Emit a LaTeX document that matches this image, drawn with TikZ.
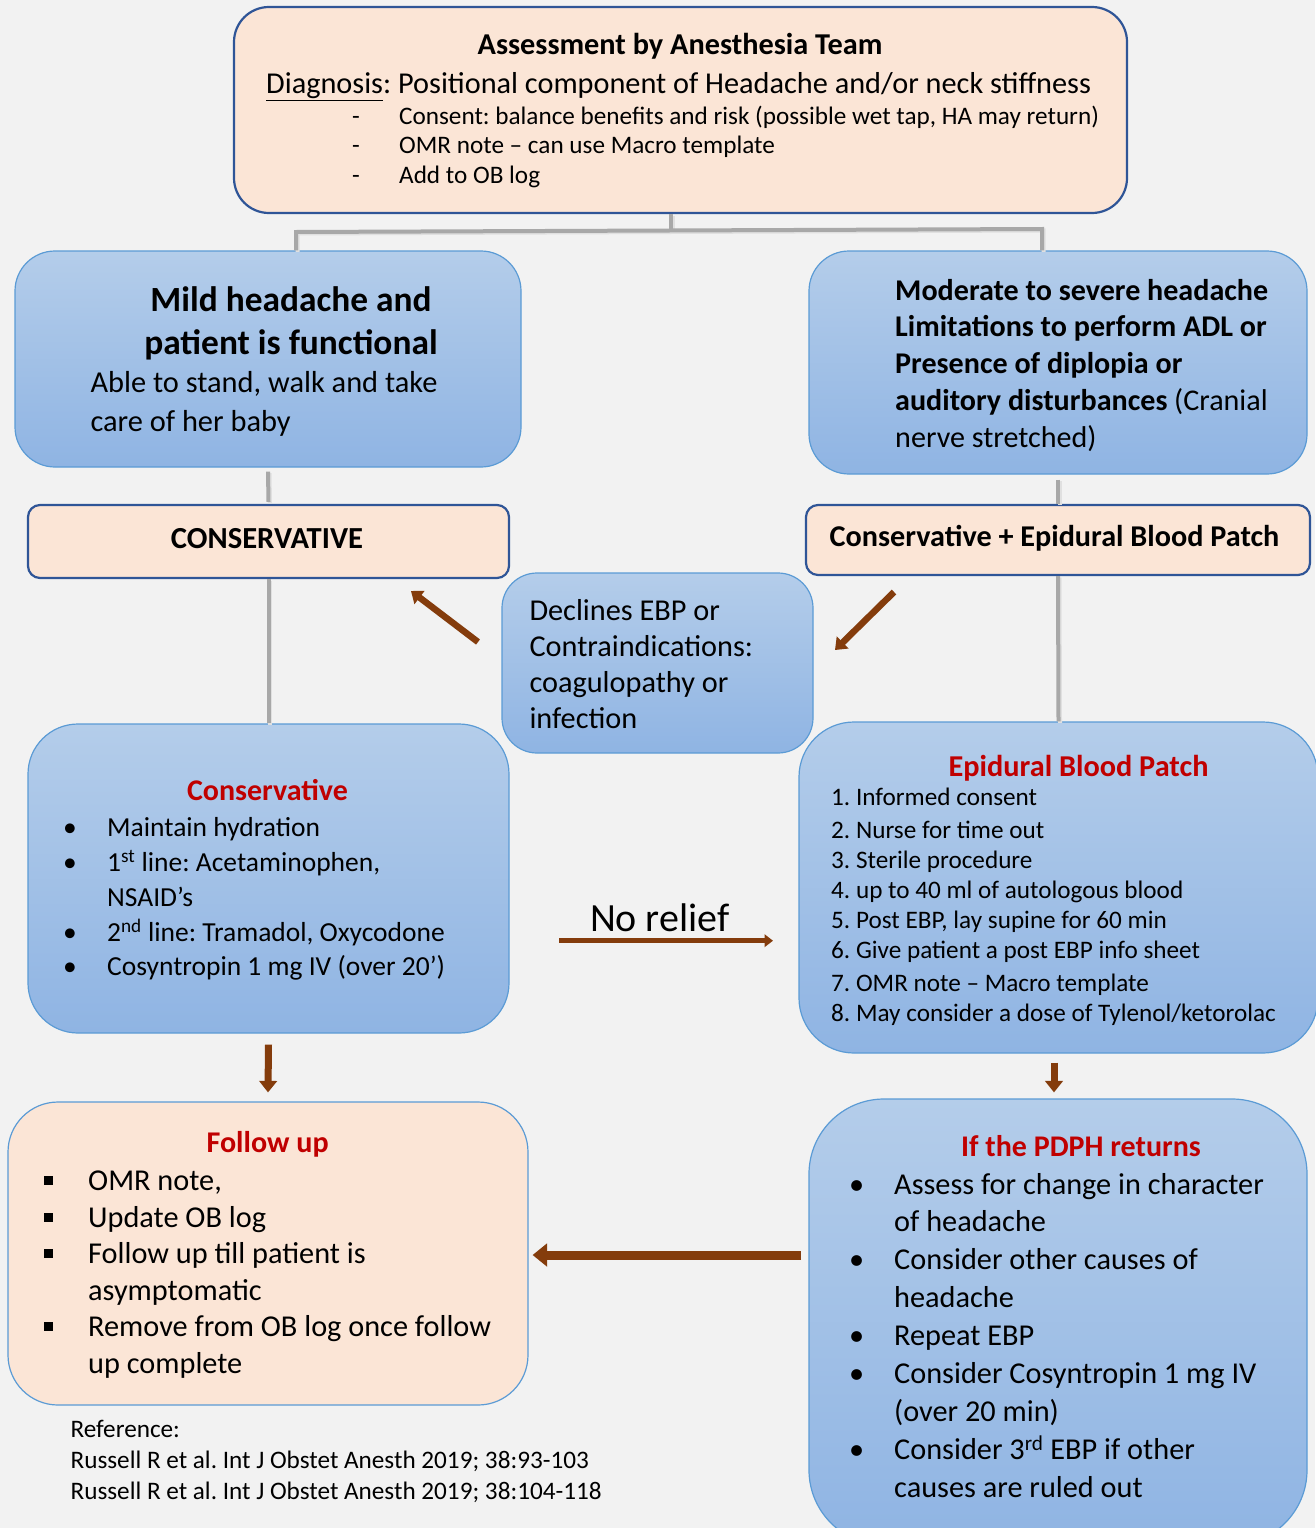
\documentclass[tikz,border=0pt]{standalone}
\usepackage{fontspec}
\setmainfont{Carlito}
\usetikzlibrary{arrows.meta}
\frenchspacing

\definecolor{bgc}{HTML}{F2F2F2}
\definecolor{peach}{HTML}{FBE5D6}
\definecolor{navy}{HTML}{2F5597}
\definecolor{skyline}{HTML}{5B9BD5}
\definecolor{bluetop}{HTML}{B4CDEA}
\definecolor{bluebot}{HTML}{8FB4E3}
\definecolor{alert}{HTML}{C00000}
\definecolor{rust}{HTML}{843C0C}
\definecolor{linkgray}{HTML}{A8A8A8}

% one-column and two-column stacks whose baseline is the first line
\newcommand{\stack}[1]{\begin{tabular}[t]{@{}l@{}}#1\end{tabular}}
\newcommand{\cstack}[1]{\begin{tabular}[t]{@{}c@{}}#1\end{tabular}}
\newcommand{\blist}[1]{\begin{tabular}[t]{@{}l@{}l@{}}#1\end{tabular}}
\newcommand{\bdot}[1]{\makebox[#1][l]{\textbullet}}
\newcommand{\bsq}[1]{\makebox[#1][l]{\raisebox{5.5pt}{\rule{9pt}{9pt}}}}
\newcommand{\bdash}[1]{\makebox[#1][l]{-}}

\tikzset{
  pbox/.style={rectangle, draw=navy, line width=2.2pt, fill=peach, inner sep=0pt},
  lbox/.style={rectangle, draw=skyline, line width=1.2pt, fill=peach, inner sep=0pt},
  bbox/.style={rectangle, draw=skyline, line width=1.2pt, top color=bluetop, bottom color=bluebot, inner sep=0pt},
  txt/.style={inner sep=0pt, anchor=base west},
  ctxt/.style={inner sep=0pt, anchor=base},
  gline/.style={draw=linkgray, line width=4pt,
    preaction={draw=black!12, line width=4pt, transform canvas={shift={(1.5pt,-1.5pt)}}}},
  rarrow/.style={draw=rust, line width=#1, -{Triangle[length=1.5*#1+1pt, width=2.5*#1]}},
  rarrow/.default=7pt
}

\begin{document}
\begin{tikzpicture}[x=1pt, y=-1pt]
\fill[bgc] (0,0) rectangle (1315,1528);
\useasboundingbox (0,0) rectangle (1315,1528);

% ---------- assessment ----------
\node[pbox, minimum width=893pt, minimum height=206pt, rounded corners=35pt] (assess) at (680.5,110) {};
\node[ctxt, font=\bfseries\fontsize{30.3}{32}\selectfont] (assesst) at (680,55) {Assessment by Anesthesia Team};
\node[txt, font=\fontsize{30.3}{32}\selectfont] (diag) at (266,93.3)
  {\underline{Diagnosis}: Positional component of Headache and/or neck stiffness};
\node[txt, font=\fontsize{25.2}{29.7}\selectfont] (tasks) at (352,124)
  {\blist{\bdash{47pt} & Consent: balance benefits and risk (possible wet tap, HA may return)\\
          \bdash{47pt} & OMR note – can use Macro template\\
          \bdash{47pt} & Add to OB log}};

% ---------- severity boxes ----------
\node[bbox, minimum width=506pt, minimum height=216pt, rounded corners=40pt] (mild) at (268,359) {};
\node[ctxt, font=\bfseries\fontsize{35.4}{42.6}\selectfont] (mildt) at (291,311.7)
  {\cstack{Mild headache and\\ patient is functional}};
\node[txt, font=\fontsize{30.4}{38.7}\selectfont] (milds) at (90.3,392.3)
  {\stack{Able to stand, walk and take\\ care of her baby}};

\node[bbox, minimum width=498pt, minimum height=223pt, rounded corners=40pt] (severe) at (1058,362.5) {};
\node[txt, font=\fontsize{30.1}{36.8}\selectfont] (severet) at (895,300)
  {\stack{\textbf{Moderate to severe headache}\\
          \textbf{Limitations to perform ADL or}\\
          \textbf{Presence of diplopia or}\\
          \textbf{auditory disturbances} (Cranial\\
          nerve stretched)}};

% ---------- management choice ----------
\node[pbox, minimum width=481pt, minimum height=73pt, rounded corners=12pt] (cons) at (268.5,541.5) {};
\node[ctxt, font=\bfseries\fontsize{30.6}{32}\selectfont] (const) at (267,548.3) {CONSERVATIVE};

\node[pbox, minimum width=504pt, minimum height=70pt, rounded corners=12pt] (combo) at (1058,540) {};
\node[ctxt, font=\bfseries\fontsize{30.2}{32}\selectfont] (combot) at (1054.5,546.7) {Conservative + Epidural Blood Patch};

% ---------- treatment boxes ----------
\node[bbox, minimum width=481pt, minimum height=309pt, rounded corners=50pt] (consplan) at (268.5,878.5) {};
\node[ctxt, font=\bfseries\fontsize{30}{32}\selectfont, text=alert] (consplant) at (267.5,800.7) {Conservative};
\node[txt, font=\fontsize{27.5}{34.8}\selectfont] (consplanl) at (63,836.7)
  {\blist{\bdot{44pt} & Maintain hydration\\
          \bdot{44pt} & 1\textsuperscript{st} line: Acetaminophen,\\
                      & NSAID’s\\
          \bdot{44pt} & 2\textsuperscript{nd} line: Tramadol, Oxycodone\\
          \bdot{44pt} & Cosyntropin 1 mg IV (over 20’)}};

\node[bbox, minimum width=519pt, minimum height=331pt, rounded corners=55pt] (ebp) at (1058.5,887.5) {};
\node[ctxt, font=\bfseries\fontsize{30.3}{32}\selectfont, text=alert] (ebpt) at (1078.5,776.7) {Epidural Blood Patch};
\node[txt, font=\fontsize{25.2}{30}\selectfont] (ebpl) at (831,805.7)
  {\stack{1. Informed consent\\[3pt]
          2. Nurse for time out\\
          3. Sterile procedure\\
          4. up to 40 ml of autologous blood\\
          5. Post EBP, lay supine for 60 min\\
          6. Give patient a post EBP info sheet\\[3pt]
          7. OMR note – Macro template\\
          8. May consider a dose of Tylenol/ketorolac}};

\node[bbox, minimum width=311pt, minimum height=180pt, rounded corners=35pt] (decl) at (657.5,663) {};
\node[txt, font=\fontsize{30.3}{36.1}\selectfont] (declt) at (529.3,620)
  {\stack{Declines EBP or\\ Contraindications:\\ coagulopathy or\\ infection}};

\node[lbox, minimum width=520pt, minimum height=303pt, rounded corners=50pt] (follow) at (268,1253.5) {};
\node[ctxt, font=\bfseries\fontsize{30.1}{32}\selectfont, text=alert] (followt) at (267.6,1152) {Follow up};
\node[txt, font=\fontsize{30.3}{36.5}\selectfont] (followl) at (44,1190.7)
  {\blist{\bsq{44pt} & OMR note,\\
          \bsq{44pt} & Update OB log\\
          \bsq{44pt} & Follow up till patient is\\
                     & asymptomatic\\
          \bsq{44pt} & Remove from OB log once follow\\
                     & up complete}};

\node[bbox, minimum width=498pt, minimum height=446pt, rounded corners=75pt] (pdph) at (1058,1322) {};
\node[ctxt, font=\bfseries\fontsize{30}{32}\selectfont, text=alert] (pdpht) at (1081,1156.7) {If the PDPH returns};
\node[txt, font=\fontsize{30.3}{37.9}\selectfont] (pdphl) at (849,1194)
  {\blist{\bdot{45pt} & Assess for change in character\\
                      & of headache\\
          \bdot{45pt} & Consider other causes of\\
                      & headache\\
          \bdot{45pt} & Repeat EBP\\
          \bdot{45pt} & Consider Cosyntropin 1 mg IV\\
                      & (over 20 min)\\
          \bdot{45pt} & Consider 3\textsuperscript{rd} EBP if other\\
                      & causes are ruled out}};

% ---------- references ----------
\node[txt, font=\fontsize{25.2}{31.3}\selectfont] (refs) at (70.4,1437.3)
  {\stack{Reference:\\
          Russell R et al. Int J Obstet Anesth 2019; 38:93-103\\
          Russell R et al. Int J Obstet Anesth 2019; 38:104-118}};

% ---------- gray tree connectors ----------
\coordinate (busM) at (671,230.5);
\coordinate (busL) at (296,232);
\coordinate (busR) at (1042,229);
\draw[gline] (assess.south -| busM) -- (busM);
\draw[gline] (mild.north -| busL) -- (busL) -- (busR) -- (severe.north -| busR);
\draw[gline] ([yshift=-4pt]mild.south) -- ([yshift=2pt]cons.north);
\draw[gline] ([yshift=-5pt]severe.south) -- (combo.north);
\draw[gline] (cons.south) -- (consplan.north);
\draw[gline] (combo.south) -- (ebp.north);

% ---------- brown arrows ----------
\coordinate (dlA) at (478,642);
\coordinate (dlB) at (411,591);
\coordinate (drA) at (894,592);
\coordinate (drB) at (835,650);
\draw[rarrow=6.5pt] (dlA) -- (dlB);
\draw[rarrow=6.5pt] (drA) -- (drB);

\coordinate (nrA) at (559,940.7);
\coordinate (nrB) at (773,940.7);
\draw[rarrow=5pt] (nrA) -- (nrB);
\node[ctxt, font=\fontsize{40}{44}\selectfont] (norelief) at (659.7,931.7) {No relief};

\draw[rarrow=7pt] ([yshift=-11pt]consplan.south) -- ([yshift=9pt]follow.north);
\draw[rarrow=7pt] ([xshift=-4.5pt,yshift=-9pt]ebp.south) -- ([xshift=-4pt,yshift=6pt]pdph.north);

\coordinate (retA) at (801,1255);
\draw[rarrow=9pt, shorten >=4pt] (retA) -- (follow.east |- retA);
\end{tikzpicture}
\end{document}
